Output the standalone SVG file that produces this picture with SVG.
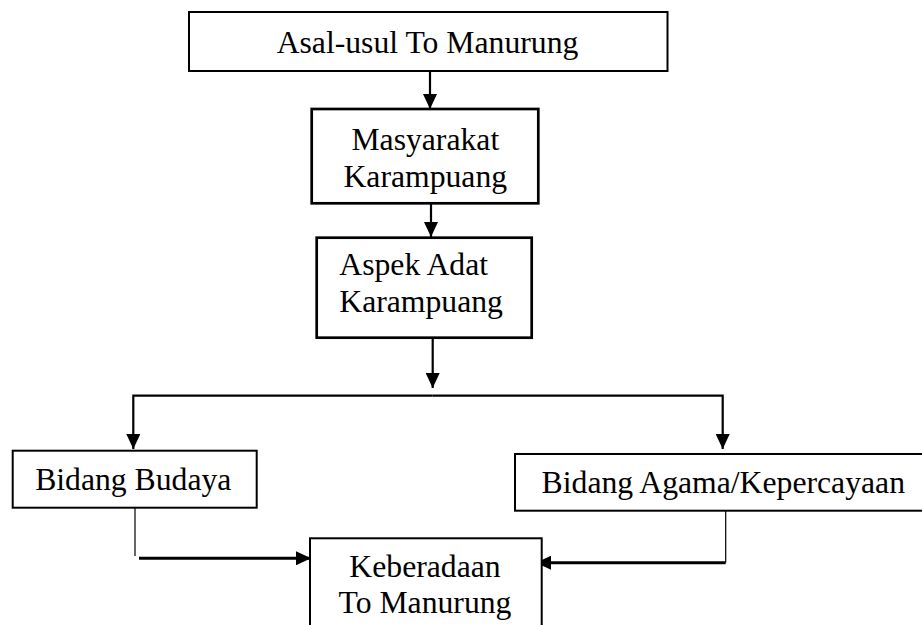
<svg xmlns="http://www.w3.org/2000/svg" width="922" height="625" viewBox="0 0 922 625">
<style>
.box{fill:#fff;stroke:#000;stroke-width:2}
.bold{stroke-width:2.7}
.lbl{font-family:"Liberation Serif","Times New Roman",serif;font-size:31.7px;fill:#000}
.c{text-anchor:middle}
.ln{fill:none;stroke:#000;stroke-width:2.2}
.thin{fill:none;stroke:#000;stroke-width:1.2}
.thick{fill:none;stroke:#000;stroke-width:3}
</style>
<defs>
<marker id="ah" markerUnits="userSpaceOnUse" markerWidth="15" markerHeight="14" refX="15" refY="7" orient="auto" viewBox="0 0 15 14">
<path d="M0,0 L15,7 L0,14 z" fill="#000"/>
</marker>
</defs>
<rect width="922" height="625" fill="#fff"/>
<g id="connectors">
<path class="ln" d="M430,71 V109" marker-end="url(#ah)"/>
<path class="ln" d="M431,203 V237" marker-end="url(#ah)"/>
<path class="ln" d="M432.7,338 V388" marker-end="url(#ah)"/>
<path class="ln" d="M432.7,395.7 H133.3 V449" marker-end="url(#ah)"/>
<path class="ln" d="M432.7,395.7 H722.7 V449" marker-end="url(#ah)"/>
<path class="thin" d="M135,508 V556"/>
<path class="thick" d="M139,558.3 H311" marker-end="url(#ah)"/>
<path class="thin" d="M725.7,510.7 V562.7"/>
<path class="thick" d="M725.7,562.7 H536" marker-end="url(#ah)"/>
</g>
<g id="n1">
<rect class="box" x="189" y="12" width="478.5" height="59"/>
<text class="lbl c" x="427.5" y="52.5">Asal-usul To Manurung</text>
</g>
<g id="n2">
<rect class="box bold" x="311.7" y="109" width="226.6" height="94.3"/>
<text class="lbl c" x="425.3" y="150">Masyarakat</text>
<text class="lbl c" x="425.3" y="187">Karampuang</text>
</g>
<g id="n3">
<rect class="box bold" x="316.7" y="237.7" width="215" height="100"/>
<text class="lbl" x="339.3" y="275">Aspek Adat</text>
<text class="lbl" x="339.3" y="311.5">Karampuang</text>
</g>
<g id="n4">
<rect class="box" x="12.7" y="450.7" width="244" height="57"/>
<text class="lbl c" x="133.3" y="490">Bidang Budaya</text>
</g>
<g id="n5">
<rect class="box" x="515" y="454" width="412" height="56.7"/>
<text class="lbl c" x="723.3" y="493.3">Bidang Agama/Kepercayaan</text>
</g>
<g id="n6">
<rect class="box" x="310" y="538.3" width="231.7" height="95"/>
<text class="lbl c" x="425" y="576.7">Keberadaan</text>
<text class="lbl c" x="425" y="613.3">To Manurung</text>
</g>
</svg>
